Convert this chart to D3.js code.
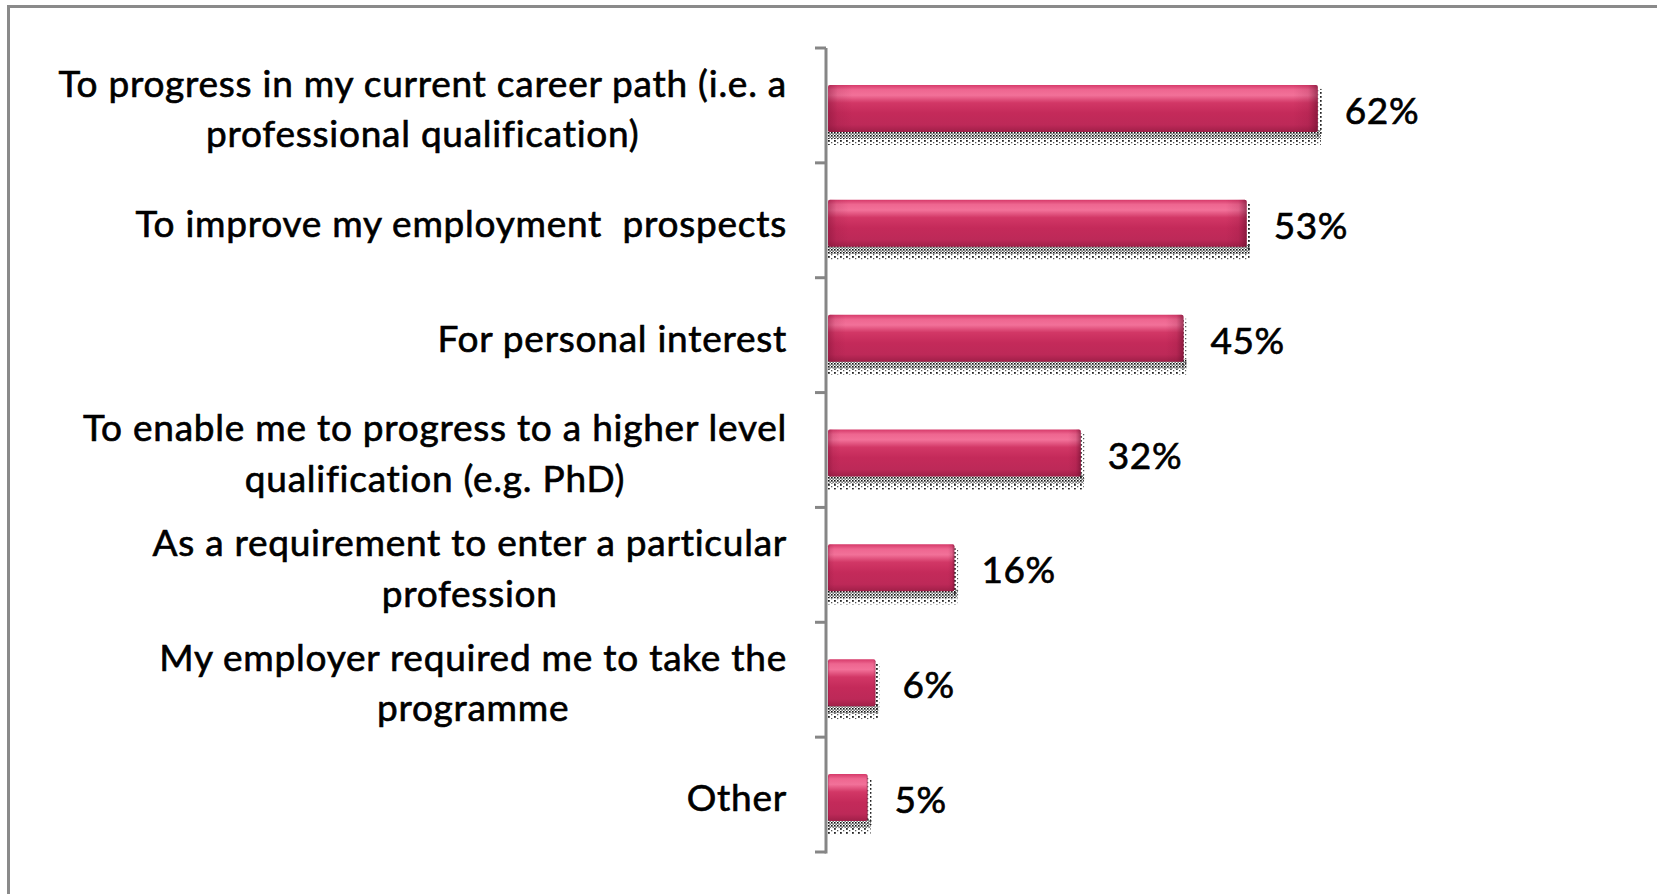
<!DOCTYPE html>
<html>
<head>
<meta charset="utf-8">
<script src="https://cdn.jsdelivr.net/npm/d3@7"></script>
<style>
  html, body { margin: 0; padding: 0; background: #fff; }
  svg { display: block; }
  text { font-family: Lato, "Open Sans", sans-serif; fill: #000; }
</style>
</head>
<body>
<svg id="chart" width="1657" height="894"></svg>
<script>
// Reasons for taking the programme (share of respondents, %)
const categories = [
  "To progress in my current career path (i.e. a\nprofessional qualification)",
  "To improve my employment  prospects",
  "For personal interest",
  "To enable me to progress to a higher level\nqualification (e.g. PhD)",
  "As a requirement to enter a particular\nprofession",
  "My employer required me to take the\nprogramme",
  "Other"
];
const values = [62, 53, 45, 32, 16, 6, 5];
const valueLabels = values.map(v => v + "%");

const W = 1657, H = 894;
const axisX = 826;
const svg = d3.select("#chart");

// frame: only top and left edges are visible
svg.append("line").attr("x1", 8.5).attr("x2", W).attr("y1", 6.5).attr("y2", 6.5)
  .attr("stroke", "#8a8a8a").attr("stroke-width", 3);
svg.append("line").attr("x1", 8.5).attr("x2", 8.5).attr("y1", 5).attr("y2", H)
  .attr("stroke", "#8a8a8a").attr("stroke-width", 3);

const x = d3.scaleLinear().domain([0, 100]).range([axisX + 2, axisX + 2 + 790]);
const y = d3.scaleBand().domain(categories).range([48, 852]).paddingInner(0).paddingOuter(0);
const barH = 47;
const barOffset = 3; // bars sit slightly below band centre

const defs = svg.append("defs");

// glossy vertical gradient
const g1 = defs.append("linearGradient").attr("id", "barFill")
  .attr("x1", 0).attr("y1", 0).attr("x2", 0).attr("y2", 1);
[[0, "#d63a6a"], [0.1, "#ee6690"], [0.22, "#f27199"], [0.38, "#d23766"],
 [0.6, "#c42a5a"], [0.85, "#bd2958"], [1, "#a01f48"]]
  .forEach(([o, c]) => g1.append("stop").attr("offset", o).attr("stop-color", c));

// darker bevel at the bar ends
const g2 = defs.append("linearGradient").attr("id", "barEnds")
  .attr("x1", 0).attr("y1", 0).attr("x2", 1).attr("y2", 0);
[[0, "#7a1034", 0.45], [0.02, "#7a1034", 0.12], [0.05, "#7a1034", 0],
 [0.95, "#7a1034", 0], [0.98, "#7a1034", 0.15], [1, "#5a0a26", 0.55]]
  .forEach(([o, c, a]) => g2.append("stop").attr("offset", o).attr("stop-color", c).attr("stop-opacity", a));

// halftone shadow patterns
const p1 = defs.append("pattern").attr("id", "shadeDense")
  .attr("width", 3).attr("height", 3).attr("patternUnits", "userSpaceOnUse");
p1.append("rect").attr("width", 1.6).attr("height", 1.6).attr("fill", "#111");
p1.append("rect").attr("x", 1.5).attr("y", 1.5).attr("width", 1.3).attr("height", 1.3).attr("fill", "#333");
const p2 = defs.append("pattern").attr("id", "shadeSparse")
  .attr("width", 6).attr("height", 4).attr("patternUnits", "userSpaceOnUse");
p2.append("rect").attr("width", 1.8).attr("height", 1.8).attr("fill", "#222");
p2.append("rect").attr("x", 3).attr("y", 2).attr("width", 1.3).attr("height", 1.3).attr("fill", "#555");

const rows = svg.append("g").selectAll("g").data(categories).join("g");

// shadow under each bar
rows.append("rect")
  .attr("x", axisX + 2)
  .attr("y", d => y(d) + y.bandwidth() / 2 + barOffset + barH / 2 - 2)
  .attr("width", (d, i) => x(values[i]) - x(0) + 3)
  .attr("height", 9)
  .attr("fill", "url(#shadeDense)");
rows.append("rect")
  .attr("x", axisX + 2)
  .attr("y", d => y(d) + y.bandwidth() / 2 + barOffset + barH / 2 + 7)
  .attr("width", (d, i) => x(values[i]) - x(0) + 3)
  .attr("height", 6)
  .attr("fill", "url(#shadeSparse)");
rows.append("rect")
  .attr("x", (d, i) => x(values[i]) - 1)
  .attr("y", d => y(d) + y.bandwidth() / 2 + barOffset - barH / 2 + 4)
  .attr("width", 5)
  .attr("height", barH)
  .attr("fill", "url(#shadeSparse)");

// bars
rows.append("rect")
  .attr("x", x(0))
  .attr("y", d => y(d) + y.bandwidth() / 2 + barOffset - barH / 2)
  .attr("width", (d, i) => x(values[i]) - x(0))
  .attr("height", barH)
  .attr("rx", 2)
  .attr("fill", "url(#barFill)");
rows.append("rect")
  .attr("x", x(0))
  .attr("y", d => y(d) + y.bandwidth() / 2 + barOffset - barH / 2)
  .attr("width", (d, i) => x(values[i]) - x(0))
  .attr("height", barH)
  .attr("rx", 2)
  .attr("fill", "url(#barEnds)");

// shared text style: regular weight thickened slightly, loose tracking
function textStyle(sel) {
  return sel.attr("font-size", 37).attr("font-weight", 400)
    .attr("stroke", "#000").attr("stroke-width", 0.65)
    .attr("letter-spacing", 0.75);
}

// value labels
rows.append("text")
  .call(textStyle)
  .attr("letter-spacing", 0.6)
  .attr("x", (d, i) => x(values[i]) + 27)
  .attr("y", d => y(d) + y.bandwidth() / 2 + barOffset + 1)
  .attr("dominant-baseline", "central")
  .text((d, i) => valueLabels[i]);

// category labels: lines centred within a right-aligned block
const labelRight = 787;
const lineH = 50.5;
rows.each(function (d) {
  const lines = d.split("\n");
  const g = d3.select(this).append("text")
    .call(textStyle)
    .attr("text-anchor", "middle")
    .attr("xml:space", "preserve");
  const cy = y(d) + y.bandwidth() / 2 + 2;
  const tspans = lines.map((t, k) => g.append("tspan")
    .attr("y", cy + (k - (lines.length - 1) / 2) * lineH)
    .attr("dominant-baseline", "central")
    .text(t));
  const maxW = d3.max(tspans, s => s.node().getComputedTextLength());
  tspans.forEach(s => s.attr("x", labelRight - maxW / 2));
});

// category axis with ticks between bands
const axisG = svg.append("g");
axisG.append("line").attr("x1", axisX).attr("x2", axisX).attr("y1", 48).attr("y2", 853.5)
  .attr("stroke", "#868686").attr("stroke-width", 3);
const tickYs = categories.map(c => y(c)).concat([y.range()[1]]);
axisG.selectAll(".tick").data(tickYs).join("line")
  .attr("x1", axisX - 11).attr("x2", axisX)
  .attr("y1", d => d).attr("y2", d => d)
  .attr("stroke", "#868686").attr("stroke-width", 3);
</script>
</body>
</html>
